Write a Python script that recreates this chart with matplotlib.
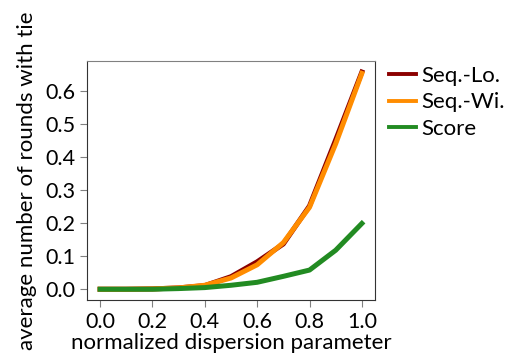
import matplotlib
matplotlib.use('Agg')
import matplotlib.pyplot as plt

plt.rcParams['font.family'] = ['Lato', 'DejaVu Sans']

# dispersion parameter values
disp = [0.0, 0.1, 0.2, 0.3, 0.4, 0.5, 0.6, 0.7, 0.8, 0.9, 1.0]

seq_lo = [0.0, 0.0, 0.001, 0.004, 0.011, 0.038, 0.083, 0.137, 0.252, 0.452, 0.657]
seq_wi = [0.0, 0.0, 0.001, 0.004, 0.012, 0.034, 0.074, 0.141, 0.248, 0.440, 0.653]
score = [0.0, 0.0, 0.0, 0.002, 0.005, 0.012, 0.021, 0.039, 0.058, 0.118, 0.199]

series_names = ['Seq.-Lo.', 'Seq.-Wi.', 'Score']
series_colors = ['darkred', 'darkorange', 'forestgreen']

fig = plt.figure(figsize=(5.06, 3.62), dpi=100)
ax = fig.add_axes([0.172, 0.171, 0.569, 0.66])

for vals, name, col in zip([seq_lo, seq_wi, score], series_names, series_colors):
    ax.plot(disp, vals, color=col, lw=3.6, label=name)

ax.set_xticks([0.0, 0.2, 0.4, 0.6, 0.8, 1.0])
ax.set_yticks([0.0, 0.1, 0.2, 0.3, 0.4, 0.5, 0.6])
ax.tick_params(labelsize=15.5, color='gray', length=5)
for s in ax.spines.values():
    s.set_color('#333333')
ax.spines['top'].set_color('gray')

ax.set_xlabel('normalized dispersion parameter', fontsize=16, labelpad=1)
ax.set_ylabel('average number of rounds with tie', fontsize=16, labelpad=6)

leg = ax.legend(loc='upper left', bbox_to_anchor=(1.035, 1.0), frameon=False,
                fontsize=16, handlelength=1.2, handletextpad=0.25,
                labelspacing=0.3, borderaxespad=0.0, borderpad=0.2)
for h in leg.get_lines():
    h.set_linewidth(2.8)

fig.savefig('out.png', dpi=100)
